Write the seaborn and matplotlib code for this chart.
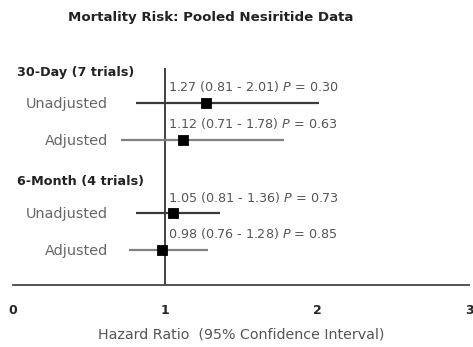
import matplotlib
matplotlib.use("Agg")
import matplotlib.pyplot as plt
import seaborn as sns
import pandas as pd

# Data
groups = ["30-Day (7 trials)", "30-Day (7 trials)", "6-Month (4 trials)", "6-Month (4 trials)"]
models = ["Unadjusted", "Adjusted", "Unadjusted", "Adjusted"]
hr = [1.27, 1.12, 1.05, 0.98]
ci_low = [0.81, 0.71, 0.81, 0.76]
ci_high = [2.01, 1.78, 1.36, 1.28]
p_values = ["0.30", "0.63", "0.73", "0.85"]
row_pos = [1, 2, 4, 5]
headers = ["30-Day (7 trials)", "6-Month (4 trials)"]
header_pos = [0.16, 3.14]

df = pd.DataFrame({"group": groups, "model": models, "hr": hr,
                   "lo": ci_low, "hi": ci_high, "p": p_values, "row": row_pos})

sns.set_style("white")
plt.rcParams["font.family"] = ["DejaVu Sans"]

fig = plt.figure(figsize=(4.73, 3.47), dpi=100)
ax = fig.add_axes([13 / 473, 1 - 285 / 347, 456 / 473, 226 / 347])

line_colors = {"Unadjusted": "#3a3a3a", "Adjusted": "#808080"}
for _, r in df.iterrows():
    ax.hlines(r["row"], r["lo"], r["hi"], color=line_colors[r["model"]], lw=1.6, zorder=2)
    ax.text(1.02, r["row"] - 0.44, f"{r['hr']:.2f} ({r['lo']:.2f} - {r['hi']:.2f}) $\\it{{P}}$ = {r['p']}",
            fontsize=9.2, color="#555555", va="center", ha="left")
    ax.text(0.625, r["row"] + 0.02, r["model"], fontsize=10.4, color="#666666",
            va="center", ha="right")

sns.scatterplot(data=df, x="hr", y="row", marker="s", s=55, color="black",
                edgecolor="black", ax=ax, zorder=3, legend=False)

for h, y in zip(headers, header_pos):
    ax.text(0.025, y, h, fontsize=9.2, fontweight="bold", color="#222222", va="center", ha="left")

ax.vlines(1, 0.05, 5.95, color="#333333", lw=1.3, zorder=1)

ax.set_xlim(0, 3)
ax.set_ylim(5.95, -0.2)
ax.set_xticks([0, 1, 2, 3])
ax.set_xticklabels(["0", "1", "2", "3"], fontweight="bold", fontsize=9)
ax.set_yticks([])
ax.set_ylabel("")
ax.set_xlabel("Hazard Ratio  (95% Confidence Interval)", fontsize=10.3, color="#555555", labelpad=7)
ax.tick_params(axis="x", direction="out", length=3, width=1.2, color="#444444", pad=11)
for s in ["top", "left", "right"]:
    ax.spines[s].set_visible(False)
ax.spines["bottom"].set_color("#444444")
ax.spines["bottom"].set_linewidth(1.3)

fig.text(211 / 473, 1 - 17 / 347, "Mortality Risk: Pooled Nesiritide Data",
         fontsize=9.6, fontweight="bold", color="#222222", ha="center", va="center")

fig.savefig("out.png", dpi=100, facecolor="white")
